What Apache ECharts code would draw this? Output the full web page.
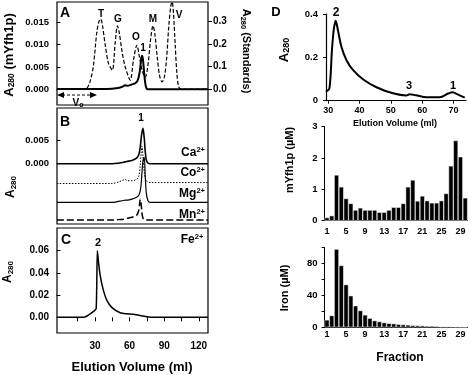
<!DOCTYPE html>
<html><head><meta charset="utf-8">
<script src="https://cdn.jsdelivr.net/npm/echarts@6/dist/echarts.min.js"></script>
<style>html,body{margin:0;padding:0;background:#fff}#c{width:469px;height:375px}</style>
</head><body><div id="c"></div>
<script>
// ---------- Panel A: mYfh1p (left axis) ----------
const aYfhVol = [-3, 20, 40, 50, 54, 56, 58, 62, 65, 67, 68.5, 69.5, 70.2, 70.8, 71.5, 72.5, 73.5, 74.5, 76, 80, 128];
const aYfhVal = [0.0001, 0.0001, 0.0001, 0.0003, 0.0006, 0.0009, 0.0008, 0.0011, 0.0014, 0.002, 0.0035, 0.0055, 0.0071, 0.0075, 0.0068, 0.004, 0.0015, 0.0003, 0, 0, 0];
// ---------- Panel A: standards (right axis) ----------
const aStdVol = [-3, 20, 22.8, 25.5, 28.5, 31.5, 33.5, 35, 36.5, 38.7, 41.6, 45, 47.4, 49.4, 51, 53.3, 56.1, 60.5, 63.4, 66.3, 68.6, 71, 73.6, 76, 78.2, 80.3, 82, 84, 86, 88.1, 90, 92, 94, 95.8, 96.9, 98, 99.5, 101, 102.6, 105, 128];
const aStdVal = [0, 0, 0.003, 0.03, 0.1, 0.25, 0.3, 0.31, 0.28, 0.2, 0.115, 0.084, 0.2, 0.28, 0.25, 0.17, 0.1, 0.04, 0.13, 0.194, 0.14, 0.08, 0.053, 0.11, 0.22, 0.28, 0.24, 0.14, 0.06, 0.032, 0.05, 0.13, 0.28, 0.37, 0.385, 0.34, 0.2, 0.07, 0.01, 0, 0];
const aLeftTicks = [0, 0.005, 0.010, 0.015];
const aRightTicks = [0, 0.1, 0.2, 0.3];

// ---------- Panel B: metal traces (raw A280) ----------
const bVol = [-3, 45, 50, 55, 56, 58, 62, 66, 68, 69.2, 70, 70.7, 71.6, 72.7, 73.5, 74.5, 76, 78, 128];
const bCa = [0, 0, 0.0001, 0.0003, 0.0004, 0.0005, 0.0007, 0.0012, 0.002, 0.0035, 0.0055, 0.0068, 0.0077, 0.0055, 0.0028, 0.0008, 0.0001, 0, 0];
const bCo = [0, 0, 0.0003, 0.0008, 0.0009, 0.0006, 0.0006, 0.0009, 0.0016, 0.004, 0.0065, 0.0081, 0.006, 0.0025, 0.0012, 0.0006, 0.0003, 0.0002, 0.0002];
const bMg = [0, 0, 0.0002, 0.0004, 0.0005, 0.0005, 0.0007, 0.0011, 0.0016, 0.0025, 0.004, 0.0065, 0.009, 0.0098, 0.006, 0.002, 0.0003, 0, 0];
const bMn = [0, 0, 0.0001, 0.0002, 0.0003, 0.0004, 0.0006, 0.001, 0.0022, 0.0045, 0.0035, 0.0015, 0.0004, 0.0001, 0, 0, 0, 0, 0];
const bOffsets = [0, -0.0043, -0.0084, -0.01225]; // Ca, Co, Mg, Mn stacking offsets
const bNames = ['Ca', 'Co', 'Mg', 'Mn'];
const bTicks = [0, 0.005];

// ---------- Panel C: Fe2+ ----------
const cVol = [-3, 15, 19.8, 23, 27, 30, 31, 31.5, 32, 33, 34.4, 37.2, 40.2, 44.5, 51.8, 57, 63.4, 70, 75, 80, 128];
const cVal = [0, 0, 0, 0.0012, 0.004, 0.0065, 0.008, 0.03, 0.06, 0.05, 0.038, 0.0245, 0.0155, 0.009, 0.0041, 0.0032, 0.0027, 0.0015, 0.0005, 0, 0];
const cYTicks = [0, 0.02, 0.04, 0.06];
const cXTicks = [15, 30, 45, 60, 75, 90, 105, 120];
const cXLabels = [30, 60, 90, 120];

// ---------- Panel D: elution profile ----------
const dVol = [29.3, 30.4, 31.2, 31.8, 32.4, 33.1, 34.2, 35.8, 37.9, 41.1, 45.4, 50.7, 54.9, 56, 58, 61.4, 65.6, 68.3, 69.7, 71.5, 73.6];
const dVal = [0.042, 0.057, 0.234, 0.33, 0.369, 0.326, 0.25, 0.188, 0.142, 0.099, 0.062, 0.034, 0.024, 0.03, 0.025, 0.016, 0.016, 0.033, 0.039, 0.028, 0.014];
const dXTicks = [30, 40, 50, 60, 70];

// ---------- Panel D: fractions ----------
const fractions = Array.from({length: 30}, (_, i) => String(i + 1));
const yfhFrac = [0.1, 0.16, 1.46, 1.08, 0.71, 0.55, 0.34, 0.41, 0.34, 0.34, 0.34, 0.27, 0.27, 0.34, 0.43, 0.43, 0.55, 1.08, 1.3, 0.63, 0.79, 0.64, 0.57, 0.57, 0.64, 0.87, 1.75, 2.56, 2.04, 0.73];
const ironFrac = [9.3, 14.7, 98, 77.5, 53.5, 39.6, 27, 21, 15.6, 11.4, 8.4, 7.2, 5.9, 5, 4.6, 3.8, 3.4, 3, 2.5, 2.3, 2.1, 1.7, 1.7, 1.3, 0.8, 0.8, 0.8, 0.6, 0.4, 0.4];

const F = 'Liberation Sans, Arial, sans-serif';
const pair = (xs, ys, off) => xs.map((x, i) => [x, ys[i] + (off || 0)]);
const lab = (size, extra) => Object.assign({fontFamily: F, fontWeight: 'bold', fontSize: size, color: '#000'}, extra || {});

const hiddenX = (gi) => ({type: 'value', gridIndex: gi, min: -3, max: 128, axisLine: {show: false}, axisTick: {show: false}, axisLabel: {show: false}, splitLine: {show: false}});
const boxGrid = (top, height) => ({left: 57, top: top, width: 151, height: height, show: true, borderColor: '#000', borderWidth: 1.2, backgroundColor: 'transparent'});

const option = {
  animation: false,
  backgroundColor: '#fff',
  grid: [
    boxGrid(2, 103),
    boxGrid(108, 116),
    boxGrid(228, 105),
    {left: 326, top: 14, width: 140, height: 86.7},
    {left: 324.6, top: 126.7, width: 143, height: 94},
    {left: 324.6, top: 247.5, width: 143, height: 79.8}
  ],
  xAxis: [
    hiddenX(0), hiddenX(1),
    {type: 'value', gridIndex: 2, min: -3, max: 128, axisLine: {show: false}, splitLine: {show: false},
     axisTick: {show: true, length: 4, customValues: cXTicks, lineStyle: {color: '#000', width: 1}},
     axisLabel: Object.assign(lab(10), {customValues: cXLabels, margin: 8})},
    {type: 'value', gridIndex: 3, min: 29.3, max: 74, splitLine: {show: false},
     axisLine: {show: true, lineStyle: {color: '#000', width: 1.2}},
     axisTick: {show: true, length: 3, customValues: dXTicks, lineStyle: {color: '#000'}},
     axisLabel: Object.assign(lab(9), {customValues: dXTicks, margin: 5})},
    {type: 'category', gridIndex: 4, data: fractions, axisLine: {show: true, lineStyle: {color: '#000', width: 1}},
     axisTick: {show: false}, axisLabel: Object.assign(lab(9), {interval: 3, margin: 6})},
    {type: 'category', gridIndex: 5, data: fractions, axisLine: {show: true, lineStyle: {color: '#000', width: 1}},
     axisTick: {show: false}, axisLabel: Object.assign(lab(9), {interval: 3, margin: 3})}
  ],
  yAxis: [
    {type: 'value', gridIndex: 0, min: -0.0035, max: 0.0195, axisLine: {show: false}, splitLine: {show: false},
     axisTick: {show: true, length: 4, customValues: aLeftTicks, lineStyle: {color: '#000'}},
     axisLabel: Object.assign(lab(9.5), {customValues: aLeftTicks, margin: 8, formatter: v => v.toFixed(3)})},
    {type: 'value', gridIndex: 0, position: 'right', min: -0.07, max: 0.385, axisLine: {show: false}, splitLine: {show: false},
     axisTick: {show: true, length: 4, customValues: aRightTicks, lineStyle: {color: '#000'}},
     axisLabel: Object.assign(lab(10), {customValues: aRightTicks, margin: 5, formatter: v => v.toFixed(1)})},
    {type: 'value', gridIndex: 1, min: -0.0131, max: 0.0121, axisLine: {show: false}, splitLine: {show: false},
     axisTick: {show: true, length: 4, customValues: bTicks, lineStyle: {color: '#000'}},
     axisLabel: Object.assign(lab(9.5), {customValues: bTicks, margin: 8, formatter: v => v.toFixed(3)})},
    {type: 'value', gridIndex: 2, min: -0.0141, max: 0.0804, axisLine: {show: false}, splitLine: {show: false},
     axisTick: {show: true, length: 4, customValues: cYTicks, lineStyle: {color: '#000'}},
     axisLabel: Object.assign(lab(10), {customValues: cYTicks, margin: 8, formatter: v => v.toFixed(2)})},
    {type: 'value', gridIndex: 3, min: 0, max: 0.4, interval: 0.2, splitLine: {show: false},
     axisLine: {show: true, lineStyle: {color: '#000', width: 1.2}},
     axisTick: {show: true, length: 3, lineStyle: {color: '#000'}},
     axisLabel: Object.assign(lab(9.5), {margin: 8, formatter: v => v === 0 ? '0' : v.toFixed(1)})},
    {type: 'value', gridIndex: 4, min: 0, max: 3, interval: 1, splitLine: {show: false},
     axisLine: {show: true, lineStyle: {color: '#000', width: 1}},
     axisTick: {show: true, length: 3, lineStyle: {color: '#000'}},
     axisLabel: Object.assign(lab(9.5), {margin: 7})},
    {type: 'value', gridIndex: 5, min: 0, max: 100, interval: 20, splitLine: {show: false},
     axisLine: {show: true, lineStyle: {color: '#000', width: 1}},
     axisTick: {show: true, length: 3, lineStyle: {color: '#000'}},
     axisLabel: Object.assign(lab(9.5), {margin: 7, formatter: v => (v % 40 === 0 && v < 100) ? String(v) : ''})}
  ],
  series: [
    {type: 'line', xAxisIndex: 0, yAxisIndex: 1, data: pair(aStdVol, aStdVal), smooth: 0.3, symbol: 'none',
     lineStyle: {color: '#000', width: 1.2, type: [4, 2]}},
    {type: 'line', xAxisIndex: 0, yAxisIndex: 0, data: pair(aYfhVol, aYfhVal), smooth: 0.3, symbol: 'none',
     lineStyle: {color: '#000', width: 2}},
    {type: 'line', xAxisIndex: 1, yAxisIndex: 2, data: pair(bVol, bCa, bOffsets[0]), smooth: 0.3, symbol: 'none',
     lineStyle: {color: '#000', width: 1.6}},
    {type: 'line', xAxisIndex: 1, yAxisIndex: 2, data: pair(bVol, bCo, bOffsets[1]), smooth: 0.3, symbol: 'none',
     lineStyle: {color: '#000', width: 1, type: [1.5, 1.5]}},
    {type: 'line', xAxisIndex: 1, yAxisIndex: 2, data: pair(bVol, bMg, bOffsets[2]), smooth: 0.3, symbol: 'none',
     lineStyle: {color: '#000', width: 1.2}},
    {type: 'line', xAxisIndex: 1, yAxisIndex: 2, data: pair(bVol, bMn, bOffsets[3]), smooth: 0.3, symbol: 'none',
     lineStyle: {color: '#000', width: 1.5, type: [7, 3]}},
    {type: 'line', xAxisIndex: 2, yAxisIndex: 3, data: pair(cVol, cVal), smooth: 0.2, symbol: 'none',
     lineStyle: {color: '#000', width: 1.5}},
    {type: 'line', xAxisIndex: 3, yAxisIndex: 4, data: pair(dVol, dVal), smooth: 0.3, symbol: 'none',
     lineStyle: {color: '#000', width: 2}},
    {type: 'bar', xAxisIndex: 4, yAxisIndex: 5, data: yfhFrac, barCategoryGap: '0%',
     itemStyle: {color: '#000', borderColor: '#fff', borderWidth: 0.5}},
    {type: 'bar', xAxisIndex: 5, yAxisIndex: 6, data: ironFrac, barCategoryGap: '0%',
     itemStyle: {color: '#000', borderColor: '#fff', borderWidth: 0.5}}
  ]
};

// ---------- annotations ----------
const T = (x, y, text, size, extra) => ({type: 'text', x: x, y: y, z: 100,
  style: Object.assign({text: text, fontFamily: F, fontWeight: 'bold', fontSize: size, fill: '#000', align: 'center', verticalAlign: 'middle'}, extra || {})});
const subRich = (main, sub) => ({a: {fontFamily: F, fontWeight: 'bold', fontSize: main, lineHeight: main + 2},
  s: {fontFamily: F, fontWeight: 'bold', fontSize: sub, verticalAlign: 'bottom', lineHeight: main + 2}});
const supRich = (main, sub) => ({a: {fontFamily: F, fontWeight: 'bold', fontSize: main, lineHeight: main + 2},
  p: {fontFamily: F, fontWeight: 'bold', fontSize: sub, verticalAlign: 'top', lineHeight: main + 2}});

option.graphic = [
  T(65, 13, 'A', 14), T(65, 122, 'B', 14), T(66, 240, 'C', 14), T(276, 12, 'D', 13),
  T(101, 14, 'T', 10), T(118, 19, 'G', 10), T(136, 37, 'O', 10), T(143, 48, '1', 10),
  T(153, 19, 'M', 10), T(179, 15, 'V', 10),
  T(141, 118, '1', 10),
  T(98, 243, '2', 11),
  T(336, 13, '2', 12), T(409, 86, '3', 11), T(453, 86, '1', 11),
  // axis titles
  T(9, 55, '{a|A}{s|280}{a| (mYfh1p)}', 13, {rich: subRich(13, 8.5)}),
  Object.assign(T(246, 51, '{a|A}{s|280}{a| (Standards)}', 11, {rich: subRich(11, 7.5)}), {rotation: -Math.PI / 2}),
  T(11, 187, '{a|A}{s|280}', 11, {rich: subRich(12, 8)}),
  T(8, 272, '{a|A}{s|280}', 11, {rich: subRich(12, 8)}),
  T(284, 50, '{a|A}{s|280}', 13, {rich: subRich(13, 9)}),
  T(290, 160, 'mYfh1p (µM)', 11),
  T(285, 288, 'Iron (µM)', 11),
  T(132, 367, 'Elution Volume (ml)', 13),
  T(395, 124, 'Elution Volume (ml)', 9),
  T(400, 358, 'Fraction', 12),
  // metal labels
  T(205, 153, '{a|Ca}{p|2+}', 12, {align: 'right', rich: supRich(12, 7.5)}),
  T(205, 173, '{a|Co}{p|2+}', 12, {align: 'right', rich: supRich(12, 7.5)}),
  T(205, 194, '{a|Mg}{p|2+}', 12, {align: 'right', rich: supRich(12, 7.5)}),
  T(205, 215, '{a|Mn}{p|2+}', 12, {align: 'right', rich: supRich(12, 7.5)}),
  T(192, 240, '{a|Fe}{p|2+}', 12, {rich: supRich(12, 7.5)}),
  // void volume arrow
  {type: 'line', z: 100, shape: {x1: 62, y1: 95, x2: 92, y2: 95}, style: {stroke: '#000', lineWidth: 1, lineDash: [3, 2]}},
  {type: 'polygon', z: 100, shape: {points: [[57, 95], [64, 92], [64, 98]]}, style: {fill: '#000'}},
  {type: 'polygon', z: 100, shape: {points: [[97, 95], [90, 92], [90, 98]]}, style: {fill: '#000'}},
  T(78, 103, '{a|V}{s|o}', 10, {rich: subRich(10, 7)})
];
// rotate left titles
[15, 17, 18, 19, 20, 21].forEach(i => { option.graphic[i].rotation = Math.PI / 2; });

const chart = echarts.init(document.getElementById('c'), null, {renderer: 'canvas'});
chart.setOption(option);
</script>
</body></html>
